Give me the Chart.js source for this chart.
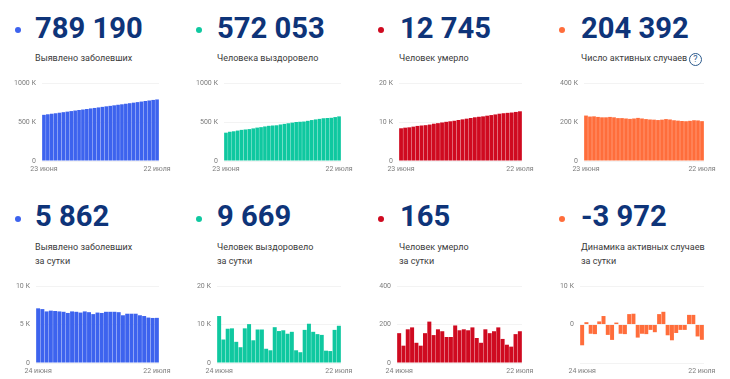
<!DOCTYPE html>
<html lang="ru">
<head>
<meta charset="utf-8">
<title>Коронавирус в России</title>
<script src="https://cdn.jsdelivr.net/npm/chart.js@4"></script>
<style>
body { margin: 0; background: #fff; width: 730px; height: 379px; overflow: hidden; position: relative; font-family: Roboto, sans-serif; }
canvas { position: absolute; }
.num { position: absolute; font-size: 29.2px; line-height: 36px; font-weight: 700; color: #0e3479; white-space: nowrap; }
.dot { position: absolute; width: 6px; height: 6px; border-radius: 50%; }
.cap { position: absolute; font-size: 9px; line-height: 14px; color: #3a3a3a; white-space: nowrap; letter-spacing: 0.02px; }
.help { position: absolute; left: 689px; top: 53px; width: 11px; height: 11px; border: 1px solid #2c5a8c; border-radius: 50%; font-size: 9px; line-height: 11px; text-align: center; color: #2c5a8c; }
</style>
</head>
<body>
<script>
var days_total = ['23 июня','24 июня','25 июня','26 июня','27 июня','28 июня','29 июня','30 июня','1 июля','2 июля','3 июля','4 июля','5 июля','6 июля','7 июля','8 июля','9 июля','10 июля','11 июля','12 июля','13 июля','14 июля','15 июля','16 июля','17 июля','18 июля','19 июля','20 июля','21 июля','22 июля'];
var days_daily = days_total.slice(1);

var total_cases = [592000,599000,606000,612000,619000,626000,633000,640000,647000,654000,660000,667000,674000,680000,687000,694000,701000,707000,714000,721000,727000,734000,741000,748000,755000,762000,769000,776000,783000,789190];
var total_recovered = [363000,375000,381000,390000,399000,404000,409000,418000,428000,434000,443000,451000,455000,458000,468000,476000,484000,492000,500000,503000,506000,515000,525000,533000,540000,548000,551000,554000,563000,572053];
var total_deaths = [8390,8545,8635,8810,8995,9100,9190,9345,9560,9705,9880,10045,10180,10315,10510,10680,10855,11025,11210,11340,11445,11620,11775,11940,12125,12250,12345,12430,12580,12745];
var total_active = [233000,228000,229000,226000,224000,224000,226000,224000,220000,220000,218000,216000,218000,221000,218000,215000,213000,212000,210000,212000,215000,213000,209000,207000,205000,204000,206000,209000,208000,204392];

var daily_cases = [7100,7000,6700,6800,6750,6700,6650,6500,6700,6650,6550,6700,6600,6350,6550,6500,6650,6650,6650,6600,6200,6400,6400,6400,6200,6100,5900,5850,5862];
var daily_recovered = [12200,6100,8900,9000,5500,4100,9000,10100,5900,8700,8700,3700,3300,9300,8300,8500,7600,8100,3300,2800,8600,10200,8100,7500,7300,3200,3100,8600,9669];
var daily_deaths = [155,90,175,185,105,90,155,215,145,175,165,135,135,195,170,175,170,185,130,105,175,155,165,185,125,95,85,150,165];
var daily_active = [-5400,600,-2400,-2500,800,2200,-2700,-4000,500,-2400,-2500,2700,2800,-3400,-2400,-2500,-1400,-2000,2700,3300,-2800,-4100,-2200,-1400,-1400,2500,2500,-3100,-3972];

var blue = '#3d63ee', green = '#0fc8a0', red = '#cf0a20', orange = '#ff6d3b';
var TOP_ROW = [83, 161], BOTTOM_ROW = [286, 363];

function add_el(cls, left, top, text) {
    var el = document.createElement('div');
    el.className = cls;
    el.style.left = left + 'px';
    el.style.top = top + 'px';
    if (text) el.innerHTML = text;
    document.body.appendChild(el);
    return el;
}

function tick_label(value) {
    if (value === 0) return '0';
    if (Math.abs(value) < 1000) return String(value);
    return value / 1000 + ' К';
}

function draw_bars(labels, values, color, left, right, row, y_min, y_max, hide_min) {
    var canvas = document.createElement('canvas');
    var axis_w = 44, pad_r = 22, pad_t = 7, axis_h = 16;
    var w = right - left + axis_w + pad_r;
    var h = row[1] - row[0] + pad_t + axis_h;
    canvas.width = w;
    canvas.height = h;
    canvas.style.left = (left - axis_w) + 'px';
    canvas.style.top = (row[0] - pad_t) + 'px';
    document.body.appendChild(canvas);

    return new Chart(canvas.getContext('2d'), {
        type: 'bar',
        data: {
            labels: labels,
            datasets: [{ data: values, backgroundColor: color, barPercentage: 0.93, categoryPercentage: 1 }]
        },
        options: {
            responsive: false,
            animation: false,
            layout: { padding: { top: pad_t, right: pad_r, left: 0, bottom: 0 } },
            plugins: { legend: { display: false }, tooltip: { enabled: false } },
            scales: {
                x: {
                    grid: { display: false, drawTicks: false, tickLength: 0 },
                    border: { display: false },
                    ticks: {
                        autoSkip: false, maxRotation: 0, minRotation: 0, padding: 4,
                        color: '#7d7d7d', font: { family: 'Roboto', size: 7 },
                        callback: function (v, i) {
                            return i === 0 || i === labels.length - 1 ? labels[i] : '';
                        }
                    },
                    afterFit: function (scale) {
                        scale.height = axis_h;
                        scale.paddingLeft = 0;
                        scale.paddingRight = 0;
                    }
                },
                y: {
                    min: y_min,
                    max: y_max,
                    grid: { color: '#f3f3f3', drawTicks: false },
                    border: { display: false },
                    ticks: {
                        stepSize: (y_max - y_min) / 2, padding: 6,
                        color: '#7d7d7d', font: { family: 'Roboto', size: 7 },
                        callback: function (v) {
                            return hide_min && v === y_min ? '' : tick_label(v);
                        }
                    },
                    afterFit: function (scale) {
                        scale.width = axis_w;
                        scale.paddingTop = 0;
                        scale.paddingBottom = 0;
                    }
                }
            }
        }
    });
}

// верхний ряд
add_el('dot', 15, 27).style.background = blue;
add_el('dot', 196, 27).style.background = green;
add_el('dot', 378, 27).style.background = red;
add_el('dot', 559, 27).style.background = orange;
add_el('num', 35, 10, '789 190');
add_el('num', 217, 10, '572 053');
add_el('num', 400, 10, '12 745');
add_el('num', 581, 10, '204 392');
add_el('cap', 35, 51, 'Выявлено заболевших');
add_el('cap', 217, 51, 'Человека выздоровело');
add_el('cap', 399, 51, 'Человек умерло');
add_el('cap', 581, 51, 'Число активных случаев');
add_el('help', 689, 53, '?');

draw_bars(days_total, total_cases, blue, 42, 159, TOP_ROW, 0, 1000000);
draw_bars(days_total, total_recovered, green, 224, 341, TOP_ROW, 0, 1000000);
draw_bars(days_total, total_deaths, red, 399, 522, TOP_ROW, 0, 20000);
draw_bars(days_total, total_active, orange, 584, 704, TOP_ROW, 0, 400000);

// нижний ряд
add_el('dot', 15, 216).style.background = blue;
add_el('dot', 196, 216).style.background = green;
add_el('dot', 378, 216).style.background = red;
add_el('dot', 559, 216).style.background = orange;
add_el('num', 35, 198, '5 862');
add_el('num', 217, 198, '9 669');
add_el('num', 400, 198, '165');
add_el('num', 581, 198, '-3 972');
add_el('cap', 35, 240, 'Выявлено заболевших');
add_el('cap', 35, 254, 'за сутки');
add_el('cap', 217, 240, 'Человек выздоровело');
add_el('cap', 217, 254, 'за сутки');
add_el('cap', 399, 240, 'Человек умерло');
add_el('cap', 399, 254, 'за сутки');
add_el('cap', 581, 240, 'Динамика активных случаев');
add_el('cap', 581, 254, 'за сутки');

draw_bars(days_daily, daily_cases, blue, 36, 159, BOTTOM_ROW, 0, 10000);
draw_bars(days_daily, daily_recovered, green, 217, 341, BOTTOM_ROW, 0, 20000);
draw_bars(days_daily, daily_deaths, red, 397, 522, BOTTOM_ROW, 0, 400);
draw_bars(days_daily, daily_active, orange, 580, 704, BOTTOM_ROW, -10000, 10000, true);
</script>
</body>
</html>
